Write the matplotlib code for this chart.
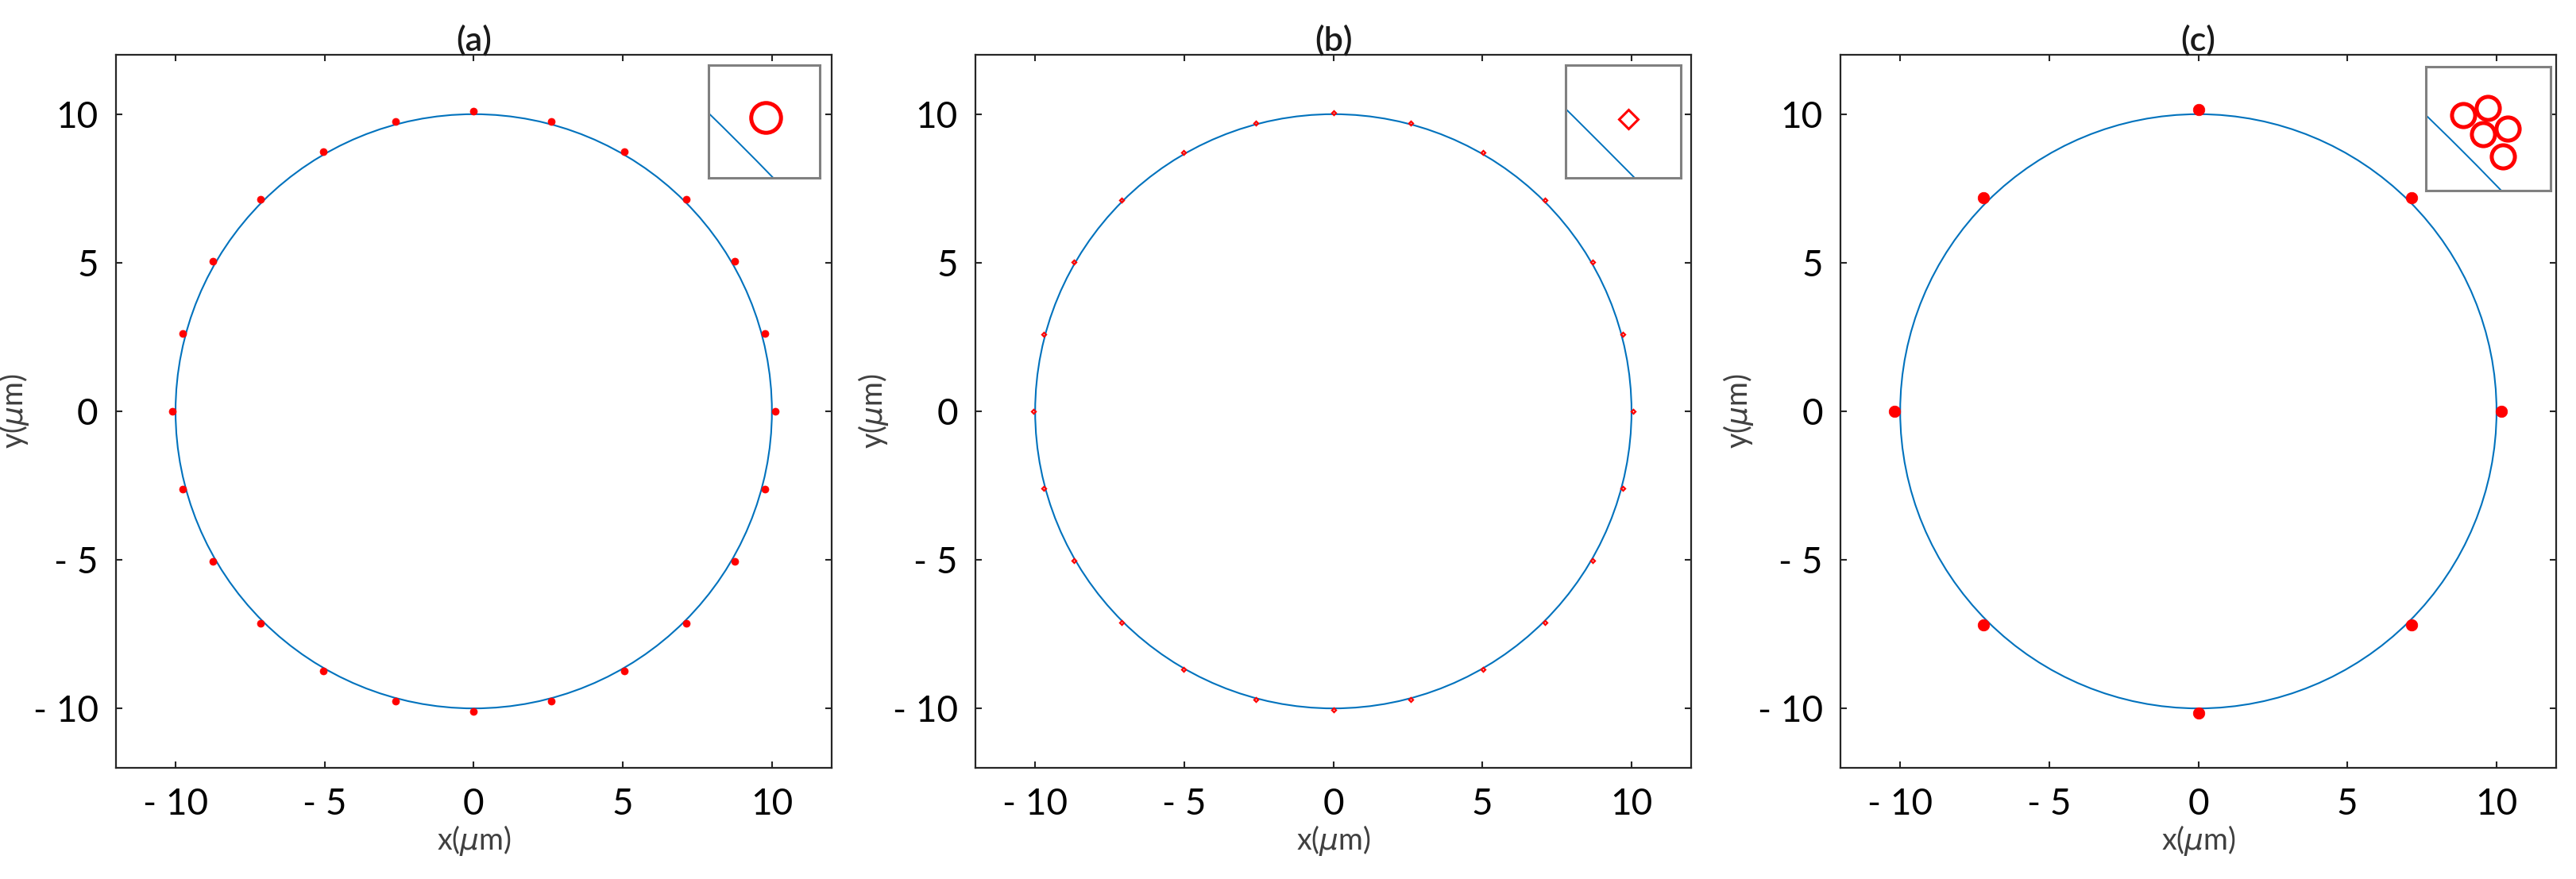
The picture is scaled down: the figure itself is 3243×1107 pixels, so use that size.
import matplotlib
matplotlib.use("Agg")
import matplotlib.pyplot as plt
from matplotlib.patches import Circle

# ---------------- data ----------------
panel_titles = ["(a)", "(b)", "(c)"]
tick_values = [-10, -5, 0, 5, 10]
x_tick_labels = ["- 10", "- 5", "0", "5", "10"]
y_tick_labels = ["- 10", "- 5", "0", "5", "10"]
ring_radius = 10.0

a_x = [10.1, 9.76, 8.75, 7.14, 5.05, 2.61, 0.0, -2.61, -5.05, -7.14, -8.75, -9.76,
       -10.1, -9.76, -8.75, -7.14, -5.05, -2.61, 0.0, 2.61, 5.05, 7.14, 8.75, 9.76]
a_y = [0.0, 2.61, 5.05, 7.14, 8.75, 9.76, 10.1, 9.76, 8.75, 7.14, 5.05, 2.61,
       0.0, -2.61, -5.05, -7.14, -8.75, -9.76, -10.1, -9.76, -8.75, -7.14, -5.05, -2.61]

b_x = [10.05, 9.71, 8.70, 7.11, 5.03, 2.60, 0.0, -2.60, -5.03, -7.11, -8.70, -9.71,
       -10.05, -9.71, -8.70, -7.11, -5.03, -2.60, 0.0, 2.60, 5.03, 7.11, 8.70, 9.71]
b_y = [0.0, 2.60, 5.03, 7.11, 8.70, 9.71, 10.05, 9.71, 8.70, 7.11, 5.03, 2.60,
       0.0, -2.60, -5.03, -7.11, -8.70, -9.71, -10.05, -9.71, -8.70, -7.11, -5.03, -2.60]

c_x = [10.15, 7.15, 0.0, -7.2, -10.2, -7.2, 0.0, 7.15]
c_y = [0.0, 7.2, 10.15, 7.2, 0.0, -7.2, -10.15, -7.2]

# zoomed cluster shown in inset (c)
c_cluster_x = [7.070, 7.149, 7.133, 7.212, 7.197]
c_cluster_y = [7.190, 7.213, 7.128, 7.146, 7.057]

# ---------------- style ----------------
BLUE = "#0072BD"
RED = "#FF0000"
SPINE = "#262626"
INSET_EDGE = "#808080"

fig = plt.figure(figsize=(32.43, 11.07), dpi=100)

main_lefts = [0.0450, 0.3787, 0.7145]
main_bottom, main_w, main_h = 0.1265, 0.2778, 0.8112

inset_rects = [
    [0.2751, 0.7977, 0.04317, 0.1283],
    [0.6078, 0.7977, 0.04471, 0.1283],
    [0.9417, 0.7832, 0.04841, 0.1409],
]
inset_limits = [
    ((6.990, 7.281), (6.982, 7.277)),
    ((7.016, 7.188), (7.023, 7.191)),
    ((6.950, 7.350), (6.948, 7.345)),
]

main_series = [(a_x, a_y), (b_x, b_y), (c_x, c_y)]
main_marker = [dict(marker="o", ms=6.5, mfc=RED, mec=RED, mew=0.5),
               dict(marker="D", ms=2.6, mfc="none", mec=RED, mew=1.6),
               dict(marker="o", ms=10.5, mfc=RED, mec=RED, mew=0.5)]
inset_series = [(a_x, a_y), (b_x, b_y), (c_cluster_x, c_cluster_y)]
inset_marker = [dict(marker="o", ms=27, mfc="none", mec=RED, mew=3.6),
                dict(marker="D", ms=12, mfc="none", mec=RED, mew=2.2),
                dict(marker="o", ms=21, mfc="none", mec=RED, mew=3.6)]

tick_font = "Lato"

for i in range(3):
    ax = fig.add_axes([main_lefts[i], main_bottom, main_w, main_h])
    ax.add_patch(Circle((0, 0), ring_radius, fill=False, ec=BLUE, lw=1.5, zorder=2))
    xs, ys = main_series[i]
    ax.plot(xs, ys, ls="none", zorder=3, **main_marker[i])
    ax.set_xlim(-12, 12)
    ax.set_ylim(-12, 12)
    ax.set_xticks(tick_values)
    ax.set_yticks(tick_values)
    ax.set_xticklabels(x_tick_labels, fontsize=33, fontname=tick_font)
    ax.set_yticklabels(y_tick_labels, fontsize=33, fontname=tick_font)
    ax.tick_params(direction="in", length=6, width=1.5, color=SPINE,
                   top=True, right=True, labelcolor="black")
    ax.tick_params(axis="x", pad=18)
    ax.tick_params(axis="y", pad=16)
    for s in ax.spines.values():
        s.set_color(SPINE)
        s.set_linewidth(1.6)
    ax.set_xlabel(r"x($\mu$m)", fontsize=27, color="#404040", fontname=tick_font, labelpad=2)
    ax.set_ylabel(r"y($\mu$m)", fontsize=27, color="#404040", fontname=tick_font, labelpad=2)
    ax.set_title(panel_titles[i], fontsize=31, fontname=tick_font, fontweight=600,
                 pad=4, color="#1a1a1a")

    ins = fig.add_axes(inset_rects[i])
    ins.add_patch(Circle((0, 0), ring_radius, fill=False, ec=BLUE, lw=1.4, zorder=2))
    ixs, iys = inset_series[i]
    ins.plot(ixs, iys, ls="none", zorder=3, **inset_marker[i])
    (x0, x1), (y0, y1) = inset_limits[i]
    ins.set_xlim(x0, x1)
    ins.set_ylim(y0, y1)
    ins.set_xticks([])
    ins.set_yticks([])
    for s in ins.spines.values():
        s.set_color(INSET_EDGE)
        s.set_linewidth(2.2)

fig.savefig("out.png", dpi=100)
